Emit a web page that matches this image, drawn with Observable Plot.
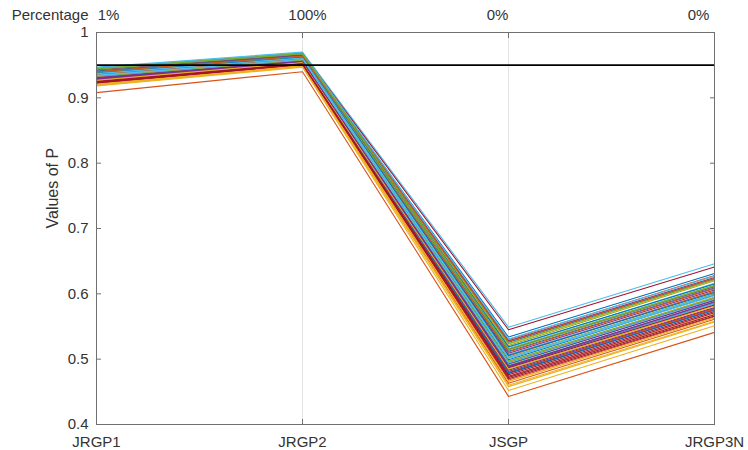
<!DOCTYPE html>
<html>
<head>
<meta charset="utf-8">
<script src="https://cdn.jsdelivr.net/npm/d3@7"></script>
<script src="https://cdn.jsdelivr.net/npm/@observablehq/plot@0.6"></script>
<style>
  html, body { margin: 0; padding: 0; background: #fff; }
  svg { display: block; }
</style>
</head>
<body>
<div id="chart"></div>
<script>
const categories = ["JRGP1", "JRGP2", "JSGP", "JRGP3N"];
const percentages = ["1%", "100%", "0%", "0%"];
const yTicks = [0.4, 0.5, 0.6, 0.7, 0.8, 0.9, 1];
const threshold = 0.95;

const jrgp1 = [0.938,0.908,0.918,0.931,0.942,0.947,0.944,0.946,0.921,0.919,0.927,0.943,0.939,0.925,0.933,0.922,0.924,0.940,0.930,0.934,0.923,0.945,0.941,0.932,0.926,0.936,0.944,0.924,0.929,0.937,0.942,0.928,0.939,0.935,0.922,0.941,0.926,0.920,0.943,0.933,0.946,0.925,0.930,0.936,0.921,0.929,0.944,0.934,0.923,0.938,0.940,0.927,0.931,0.945,0.937,0.924];
const jrgp2 = [0.962,0.940,0.947,0.957,0.964,0.970,0.968,0.967,0.949,0.948,0.954,0.966,0.963,0.952,0.958,0.950,0.951,0.964,0.956,0.959,0.951,0.968,0.965,0.957,0.953,0.960,0.967,0.952,0.955,0.961,0.965,0.954,0.963,0.959,0.950,0.965,0.953,0.949,0.966,0.958,0.969,0.952,0.956,0.960,0.949,0.955,0.967,0.959,0.951,0.962,0.964,0.954,0.956,0.968,0.961,0.952];
const jsgp = [0.512,0.443,0.452,0.495,0.503,0.549,0.545,0.534,0.463,0.458,0.488,0.521,0.507,0.481,0.499,0.468,0.473,0.515,0.492,0.486,0.476,0.526,0.530,0.496,0.509,0.484,0.518,0.478,0.490,0.505,0.523,0.483,0.514,0.501,0.472,0.519,0.480,0.466,0.528,0.497,0.531,0.487,0.479,0.511,0.460,0.493,0.524,0.494,0.470,0.506,0.527,0.485,0.489,0.516,0.502,0.474];
const jrgp3n = [0.609,0.541,0.551,0.593,0.600,0.646,0.641,0.631,0.561,0.557,0.585,0.620,0.603,0.578,0.598,0.565,0.569,0.611,0.591,0.585,0.573,0.623,0.628,0.595,0.606,0.582,0.616,0.576,0.587,0.604,0.621,0.579,0.612,0.597,0.568,0.615,0.577,0.563,0.625,0.594,0.627,0.583,0.575,0.608,0.558,0.590,0.622,0.592,0.566,0.602,0.624,0.581,0.588,0.613,0.599,0.571];

const palette = ["#0072BD","#D95319","#EDB120","#7E2F8E","#77AC30","#4DBEEE","#A2142F"];

const columns = [jrgp1, jrgp2, jsgp, jrgp3n];
const rows = [];
for (let s = 0; s < jrgp1.length; s++) {
  categories.forEach((c, k) => rows.push({series: s, cat: c, value: columns[k][s]}));
}
const labelShift = [12, 5, -11, -16];

const font = "'Liberation Sans', Arial, Helvetica, sans-serif";
const txt = "#333";
const axisColor = "#707070";

const chart = Plot.plot({
  width: 748,
  height: 450,
  marginLeft: 96,
  marginRight: 34,
  marginTop: 32,
  marginBottom: 26,
  style: {fontFamily: font, fontSize: "15px", color: txt, background: "#fff"},
  x: {type: "point", domain: categories, padding: 0},
  y: {domain: [0.4, 1]},
  marks: [
    Plot.gridX(categories, {stroke: "#e3e3e3", strokeOpacity: 1}),
    Plot.line(rows, {x: "cat", y: "value", z: "series", stroke: d => palette[d.series % 7], strokeWidth: 1.1}),
    Plot.ruleY([threshold], {stroke: "black", strokeWidth: 1.6}),
    Plot.frame({stroke: axisColor}),
    Plot.axisX(categories, {anchor: "bottom", tickSize: -5, stroke: axisColor, text: null, label: null}),
    Plot.axisX(categories, {anchor: "top", tickSize: -5, stroke: axisColor, text: null, label: null}),
    Plot.axisX(categories, {anchor: "bottom", tickSize: 0, tickPadding: 12, fill: txt, fontSize: 15, label: null}),
    Plot.axisY(yTicks, {anchor: "left", tickSize: -5, stroke: axisColor, text: null, label: null}),
    Plot.axisY(yTicks, {anchor: "right", tickSize: -5, stroke: axisColor, text: null, label: null}),
    Plot.axisY(yTicks, {anchor: "left", tickSize: 0, tickPadding: 8, fill: txt, fontSize: 15, tickFormat: d => String(d), label: null}),
    ...categories.map((c, k) =>
      Plot.text([percentages[k]], {x: () => c, y: () => 1, text: d => d, dx: labelShift[k], dy: -17, fill: txt, fontSize: 15})
    ),
    Plot.text(["Percentage"], {x: () => "JRGP1", y: () => 1, text: d => d, textAnchor: "end", dx: -8, dy: -17, fill: txt, fontSize: 15}),
    Plot.text(["Values of P"], {frameAnchor: "left", text: d => d, rotate: -90, dx: -44, fill: txt, fontSize: 16})
  ]
});
document.getElementById("chart").append(chart);
</script>
</body>
</html>
